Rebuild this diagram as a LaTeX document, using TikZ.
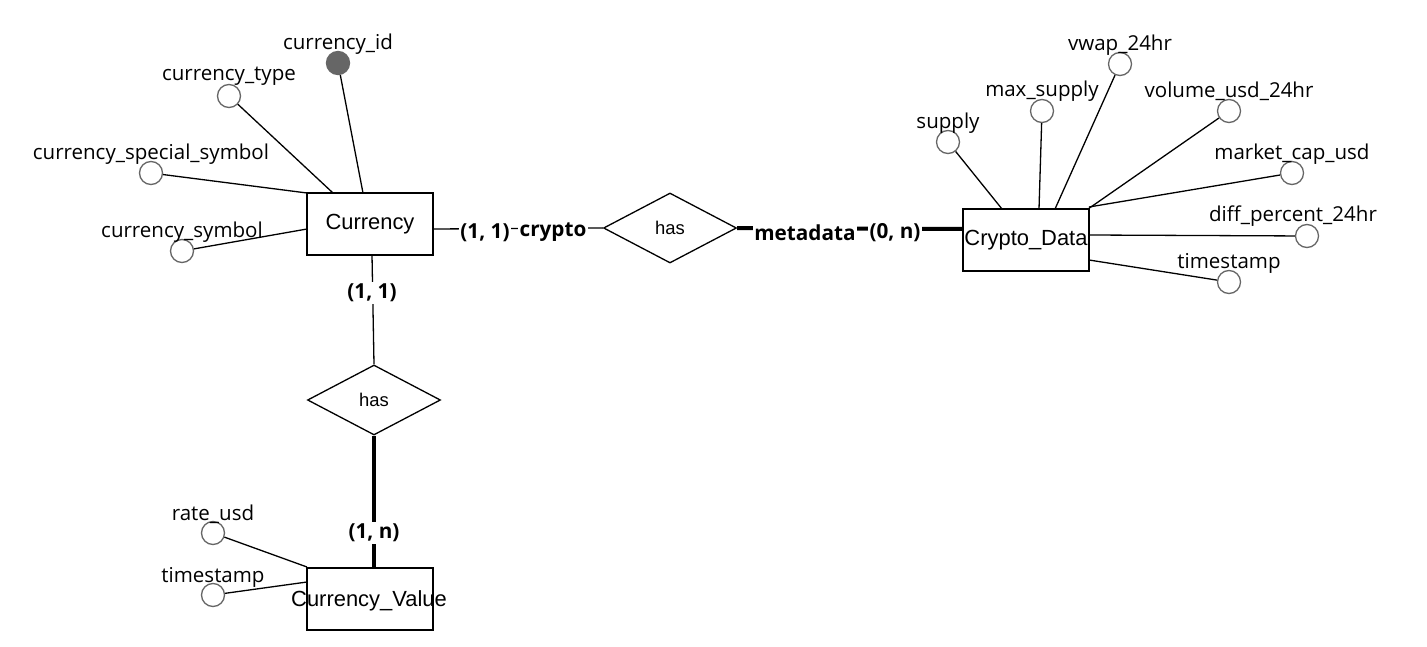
\documentclass[tikz,border=0pt]{standalone}
\usepackage{fontspec}
\setmainfont{Open Sans}
\newfontfamily\arialf{Liberation Sans}
\usetikzlibrary{shapes.geometric}
\definecolor{attrgray}{HTML}{666666}
\tikzset{
  entity/.style={draw, line width=1.3bp, minimum width=126bp, minimum height=62bp, inner sep=0pt,
    font=\arialf\fontsize{22pt}{26pt}\selectfont},
  rel/.style={draw, diamond, line width=1.3bp, minimum width=133bp, minimum height=70bp, inner sep=0pt,
    font=\arialf\fontsize{18.5pt}{22pt}\selectfont},
  attr/.style={circle, draw=attrgray, line width=1.3bp, fill=white, minimum size=23bp, inner sep=0pt},
  keyattr/.style={attr, fill=attrgray},
  alabel/.style={font=\fontsize{20.6pt}{24pt}\selectfont, inner sep=0pt, yshift=-2bp},
  card/.style={font=\bfseries\fontsize{20.8pt}{24pt}\selectfont, fill=white, inner sep=1.5bp, yshift=-2bp},
  link/.style={line width=1.3bp},
  tlink/.style={line width=4bp},
}
\begin{document}
\begin{tikzpicture}[x=1bp,y=-1bp]
\useasboundingbox (0,0) rectangle (1427,647);
\fill[white] (0,0) rectangle (1427,647);

% entities
\node[entity] (cur) at (370,224) {\raisebox{-2bp}{Currency}};
\node[entity] (cd) at (1026,240) {\makebox[0pt]{\raisebox{-1bp}{Crypto\_Data}}};
\node[entity] (cv) at (370,599) {};
\node[font=\arialf\fontsize{22pt}{26pt}\selectfont, inner sep=0pt] (cvt) at (369,601) {Currency\_Value};

% relationships
\node[rel] (has1) at (670,228) {has};
\node[rel] (has2) at (374,400) {has};

% connection points
\coordinate (p-cur-r) at (433,229);
\coordinate (p-cur-b) at (372,255);
\coordinate (p-cd-l) at (963,229);
\coordinate (p-cv-t) at (374,568);

% relationship links
\draw[link] (p-cur-r) -- (has1.west);
\draw[tlink] (has1.east) -- (p-cd-l);
\draw[link] (p-cur-b) -- (has2.north);
\draw[tlink] (has2.south) -- (p-cv-t);

\node[card] (c1) at (485,231) {(1, 1)};
\node[card] (c2) at (553,230) {crypto};
\node[card] (c3) at (805,231) {metadata};
\node[card] (c4) at (895,231) {(0, n)};
\node[card] (c5) at (372,291) {(1, 1)};
\node[card] (c6) at (374,531) {(1, n)};

% Currency attributes
\node[keyattr] (a1) at (338,63) {};
\node[alabel] (l1) at (338,42) {currency\_id};
\node[attr] (a2) at (229,96) {};
\node[alabel] (l2) at (229,74) {currency\_type};
\node[attr] (a3) at (151,173) {};
\node[alabel] (l3) at (151,152) {currency\_special\_symbol};
\node[attr] (a4) at (182,251) {};
\node[alabel] (l4) at (182,230) {currency\_symbol};
\coordinate (q1) at (363,193);
\coordinate (q2) at (333,193);
\coordinate (q3) at (307,193);
\coordinate (q4) at (307,229);
\draw[link] (a1) -- (q1);
\draw[link] (a2) -- (q2);
\draw[link] (a3) -- (q3);
\draw[link] (a4) -- (q4);

% Crypto_Data attributes
\node[attr] (b1) at (948,142) {};
\node[alabel] (m1) at (948,121) {supply};
\node[attr] (b2) at (1042,111) {};
\node[alabel] (m2) at (1042,89) {max\_supply};
\node[attr] (b3) at (1120,64) {};
\node[alabel] (m3) at (1120,43) {vwap\_24hr};
\node[attr] (b4) at (1229,111) {};
\node[alabel] (m4) at (1229,89) {volume\_usd\_24hr};
\node[attr] (b5) at (1292,173) {};
\node[alabel] (m5) at (1292,152) {market\_cap\_usd};
\node[attr] (b6) at (1307,236) {};
\node[alabel] (m6) at (1293,214) {diff\_percent\_24hr};
\node[attr] (b7) at (1229,282) {};
\node[alabel] (m7) at (1229,261) {timestamp};
\coordinate (r1) at (1002,209);
\coordinate (r2) at (1039,209);
\coordinate (r3) at (1055,209);
\coordinate (r4) at (1088,209);
\coordinate (r5) at (1089,207);
\coordinate (r6) at (1089,235);
\coordinate (r7) at (1089,260);
\draw[link] (b1) -- (r1);
\draw[link] (b2) -- (r2);
\draw[link] (b3) -- (r3);
\draw[link] (b4) -- (r4);
\draw[link] (b5) -- (r5);
\draw[link] (b6) -- (r6);
\draw[link] (b7) -- (r7);

% Currency_Value attributes
\node[attr] (v1) at (213,533) {};
\node[alabel] (n1) at (213,512) {rate\_usd};
\node[attr] (v2) at (213,595) {};
\node[alabel] (n2) at (213,575) {timestamp};
\coordinate (s1) at (307,567);
\coordinate (s2) at (307,582);
\draw[link] (v1) -- (s1);
\draw[link] (v2) -- (s2);
\end{tikzpicture}
\end{document}
